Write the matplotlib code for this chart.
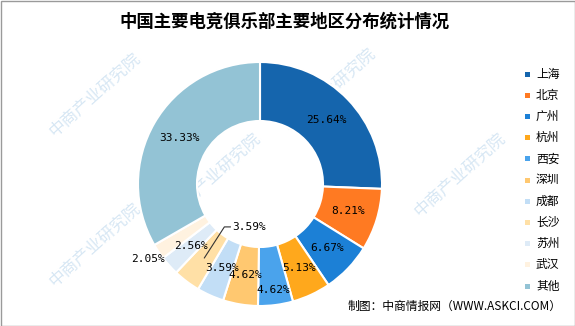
import numpy as np
import matplotlib
matplotlib.use("Agg")
import matplotlib.pyplot as plt
from matplotlib.patches import Rectangle

plt.rcParams['font.family'] = ['Noto Sans CJK SC', 'DejaVu Sans']

regions = ['上海', '北京', '广州', '杭州', '西安', '深圳', '成都', '长沙', '苏州', '武汉', '其他']
shares = [25.64, 8.21, 6.67, 5.13, 4.62, 4.62, 3.59, 3.59, 2.56, 2.05, 33.33]
colors = ['#1565ad', '#ff7a22', '#1c80d6', '#ffa81c', '#4aa3ec', '#ffc870',
          '#c2def6', '#ffe0a6', '#deebf7', '#fff2e0', '#93c3d5']

W, H = 575, 326
fig = plt.figure(figsize=(W / 100, H / 100), dpi=100)
ax = fig.add_axes([0, 0, 1, 1])

cx, cy = 260, H - 184
R_out, R_in = 122, 63

# faint diagonal watermark
for wx, wy in [(95, 95), (95, 245), (330, 90), (330, 250), (215, 175), (460, 175)]:
    ax.text(wx, H - wy, '中商产业研究院', rotation=42, color='#d7e7f4', fontsize=12,
            ha='center', va='center', zorder=0)

wedges, _ = ax.pie(shares, colors=colors, startangle=90, counterclock=False,
                   radius=R_out, center=(cx, cy),
                   wedgeprops=dict(width=R_out - R_in, edgecolor='white', linewidth=1.5))

ax.set_xlim(0, W)
ax.set_ylim(0, H)
ax.set_aspect('equal')
ax.axis('off')

# percentage labels at mid-ring, with a few pushed out for the narrow slices
total = sum(shares)
cum = np.cumsum([0] + shares[:-1])
mono = 'DejaVu Sans Mono'
r_mid = (R_out + R_in) / 2
for i, (v, c0) in enumerate(zip(shares, cum)):
    ang = np.deg2rad(90 - 360 * (c0 + v / 2) / total)
    txt = f'{v:.2f}%'
    if regions[i] == '长沙':
        x0, y0 = cx + r_mid * np.cos(ang), cy + r_mid * np.sin(ang)
        x1, y1 = x0 + 20, y0 + 31
        ax.plot([x0, x1, x1 + 6], [y0, y1, y1], color='#333333', lw=0.8)
        ax.text(x1 + 8, y1, txt, family=mono, fontsize=8, ha='left', va='center')
        continue
    r = r_mid
    if regions[i] == '西安':
        r = 107
    elif regions[i] == '武汉':
        r = 135
    ax.text(cx + r * np.cos(ang), cy + r * np.sin(ang), txt, family=mono,
            fontsize=8, ha='center', va='center')

# legend
for i, (name, col) in enumerate(zip(regions, colors)):
    y = H - (74 + i * 21.2)
    ax.add_patch(Rectangle((525, y - 2.5), 5, 5, facecolor=col, edgecolor='none'))
    ax.text(536, y, name, fontsize=8.5, ha='left', va='center')

ax.text(W / 2 - 3, H - 22, '中国主要电竞俱乐部主要地区分布统计情况', fontsize=12.5,
        fontweight='bold', ha='center', va='center')
ax.text(562, H - 306, '制图：中商情报网（WWW.ASKCI.COM）', fontsize=8.5,
        ha='right', va='center')

ax.add_patch(Rectangle((0.5, 0.5), W - 1, H - 1, fill=False, edgecolor='#9a9a9a', lw=1))

fig.savefig('out.png', dpi=100)
